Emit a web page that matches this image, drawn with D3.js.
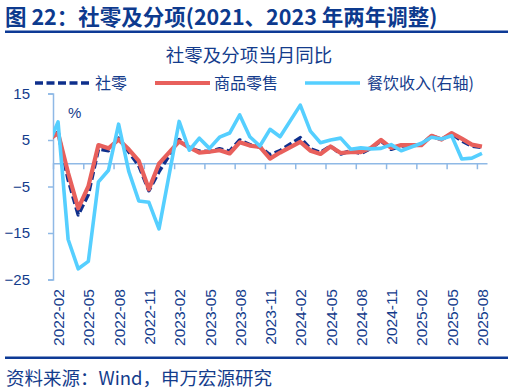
<!DOCTYPE html>
<html><head><meta charset="utf-8">
<script src="https://cdn.jsdelivr.net/npm/d3@7"></script>
<style>body{margin:0;background:#fff;} svg{display:block}</style>
</head><body><svg id="c" width="510" height="391"></svg>
<script>
const months = ["2021-12",
 "2022-01","2022-02","2022-03","2022-04","2022-05","2022-06","2022-07","2022-08","2022-09","2022-10","2022-11","2022-12",
 "2023-01","2023-02","2023-03","2023-04","2023-05","2023-06","2023-07","2023-08","2023-09","2023-10","2023-11","2023-12",
 "2024-01","2024-02","2024-03","2024-04","2024-05","2024-06","2024-07","2024-08","2024-09","2024-10","2024-11","2024-12",
 "2025-01","2025-02","2025-03","2025-04","2025-05","2025-06","2025-07","2025-08"];
const retail = [3.1,
 null,6.7,-3.5,-11.1,-6.7,3.1,2.7,5.4,2.5,-0.5,-5.9,-1.8,
 null,5.1,3.3,2.6,2.5,3.1,2.6,5.0,4.0,3.5,1.8,2.7,
 null,5.5,3.1,2.3,3.7,2.0,2.7,2.1,3.2,4.8,3.0,3.7,
 null,4.0,5.9,5.1,6.4,4.8,3.7,3.4];
const goods = [3.4,
 null,6.5,-2.1,-9.7,-5.0,3.9,3.2,5.1,3.0,0.5,-5.6,-0.1,
 null,4.7,3.4,2.3,2.5,2.8,2.1,4.5,3.8,3.5,1.0,2.3,
 null,4.6,2.7,2.0,3.6,2.2,2.4,2.4,3.3,5.0,3.3,3.9,
 null,3.9,5.9,5.1,6.5,5.3,4.0,3.6];
const catering = [-1.5,
 null,8.9,-16.4,-22.7,-21.1,-4.0,-1.5,8.4,-1.7,-8.1,-8.4,-14.1,
 null,9.0,2.8,5.4,3.2,5.6,6.5,10.4,5.7,3.7,7.3,5.7,
 null,12.5,6.9,4.4,5.0,5.4,3.0,3.3,3.1,3.2,4.0,2.7,
 null,4.3,5.6,5.2,5.9,0.9,1.1,2.1];
const seriesNames = ["社零","商品零售","餐饮收入(右轴)"];
const yTicks = [15,5,-5,-15,-25];
const xLabels = ["2022-02","2022-05","2022-08","2022-11","2023-02","2023-05","2023-08","2023-11",
 "2024-02","2024-05","2024-08","2024-11","2025-02","2025-05","2025-08"];

const svg = d3.select("#c");
const BLUE_TXT = "#143c8c";
const AXIS = "#8fb9e6";
const cjk = "'Noto Sans CJK SC','Noto Sans',sans-serif";
const lat = "'Liberation Sans',Arial,sans-serif";

// header
svg.append("text").attr("x",5).attr("y",25).attr("font-family",cjk).attr("font-weight","bold")
 .attr("font-size",21.5).attr("fill","#0d3a8e").text("图 22：社零及分项(2021、2023 年两年调整)");
svg.append("rect").attr("x",5).attr("y",30.5).attr("width",503).attr("height",2.5).attr("fill","#0d3a96");
svg.append("text").attr("x",249).attr("y",62).attr("text-anchor","middle").attr("font-family",cjk)
 .attr("font-size",18.5).attr("fill",BLUE_TXT).text("社零及分项当月同比");

// scales
const x = d3.scaleLinear().domain([1.5, 44.5]).range([53, 487]);
const y = d3.scaleLinear().domain([-25, 15]).range([279.5, 93.5]);

// y axis
const ya = svg.append("g").attr("transform","translate(53,0)")
 .call(d3.axisLeft(y).tickValues(yTicks).tickSize(5).tickPadding(18).tickFormat(d3.format("d")));
ya.select(".domain").attr("stroke",AXIS).attr("stroke-width",1.5);
ya.selectAll(".tick line").attr("stroke",AXIS).attr("stroke-width",1.5);
ya.selectAll(".tick text").attr("font-family",lat).attr("font-size",15).attr("fill",BLUE_TXT);

// zero axis with tick marks at category boundaries
const bounds = xLabels.map(l => months.indexOf(l) - 0.5);
const xa = svg.append("g").attr("transform",`translate(0,${y(0)})`)
 .call(d3.axisBottom(x).tickValues(bounds).tickSize(6).tickSizeOuter(0).tickFormat(""));
xa.select(".domain").attr("stroke",AXIS).attr("stroke-width",1.5);
xa.selectAll(".tick line").attr("stroke",AXIS).attr("stroke-width",1.5);

// x labels at bottom
svg.append("g").selectAll("text").data(xLabels).join("text")
 .attr("transform", d => `translate(${x(months.indexOf(d))+0.5},289) rotate(-90)`)
 .attr("text-anchor","end").attr("dy","0.36em")
 .attr("font-family",lat).attr("font-size",15.5).attr("fill",BLUE_TXT).text(d => d);

// % label
svg.append("text").attr("x",68).attr("y",118).attr("font-family",lat).attr("font-size",15)
 .attr("fill",BLUE_TXT).text("%");

// lines
svg.append("clipPath").attr("id","pc").append("rect").attr("x",53).attr("y",80).attr("width",440).attr("height",210);
const g = svg.append("g").attr("clip-path","url(#pc)");
const mk = arr => d3.line().x(d => x(d[0])).y(d => y(d[1]))(arr.map((v,i)=>[i,v]).filter(d => d[1] != null));
const styles = [
 {data: retail, color:"#0e2f8c", w:3.6, dash:"8,3.5"},
 {data: goods, color:"#e8605c", w:4.2, dash:null},
 {data: catering, color:"#55cfff", w:3.6, dash:null}
];
styles.forEach(s => {
 g.append("path").attr("d", mk(s.data)).attr("fill","none").attr("stroke",s.color)
  .attr("stroke-width",s.w).attr("stroke-linejoin","round").attr("stroke-dasharray",s.dash);
});

// legend
const leg = [
 {x1:35, x2:90, tx:95},
 {x1:155, x2:210, tx:214},
 {x1:305, x2:360, tx:367}
];
leg.forEach((l,i) => {
 svg.append("line").attr("x1",l.x1).attr("x2",l.x2).attr("y1",83).attr("y2",83)
  .attr("stroke",styles[i].color).attr("stroke-width",styles[i].w).attr("stroke-dasharray",styles[i].dash);
 svg.append("text").attr("x",l.tx).attr("y",89).attr("font-family",cjk).attr("font-size",16)
  .attr("fill",BLUE_TXT).text(seriesNames[i]);
});

// footer
svg.append("rect").attr("x",5).attr("y",356.5).attr("width",503).attr("height",2.5).attr("fill","#0d3a96");
svg.append("text").attr("x",6).attr("y",385).attr("font-family",cjk).attr("font-size",18.5)
 .attr("fill",BLUE_TXT).text("资料来源：Wind，申万宏源研究");
</script></body></html>
